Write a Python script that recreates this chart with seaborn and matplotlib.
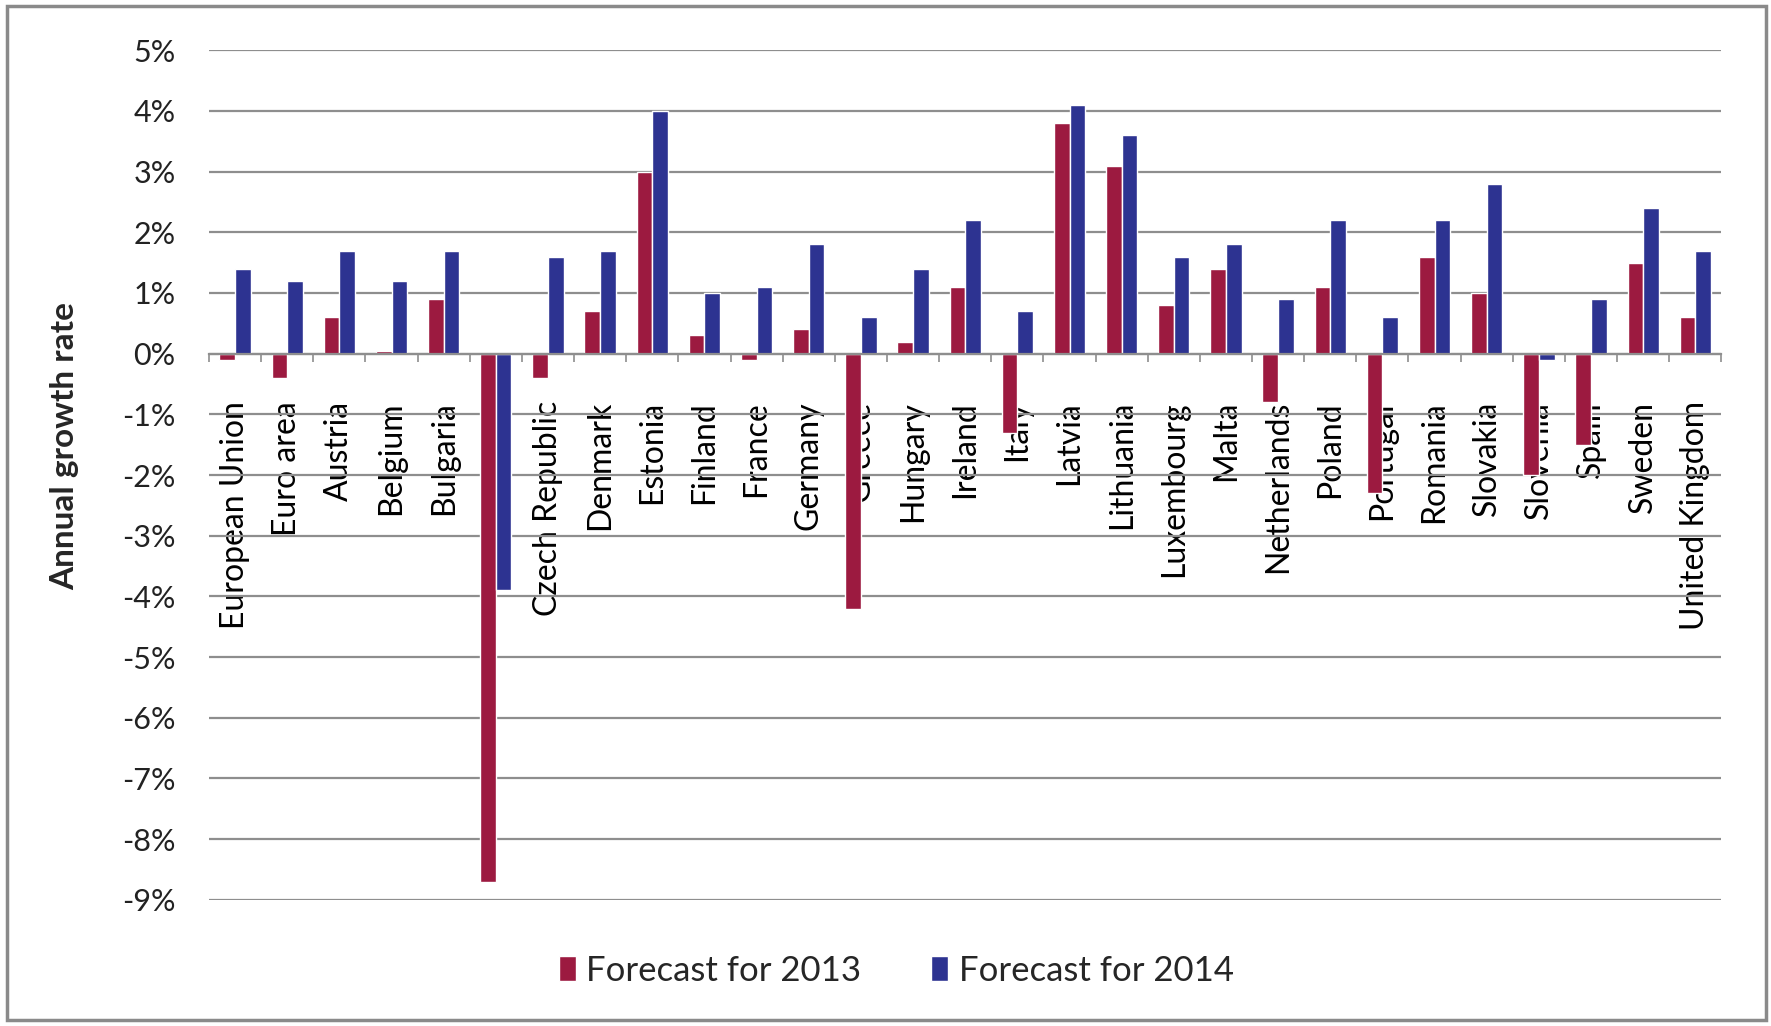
import numpy as np
import pandas as pd
import matplotlib
matplotlib.use('Agg')
import matplotlib.pyplot as plt
import seaborn as sns
from matplotlib.patches import Rectangle
from matplotlib.ticker import FuncFormatter, MultipleLocator, FixedLocator

# data (annual growth rate, %)
countries = ['European Union', 'Euro area', 'Austria', 'Belgium', 'Bulgaria', 'Cyprus',
             'Czech Republic', 'Denmark', 'Estonia', 'Finland', 'France', 'Germany',
             'Greece', 'Hungary', 'Ireland', 'Italy', 'Latvia', 'Lithuania', 'Luxembourg',
             'Malta', 'Netherlands', 'Poland', 'Portugal', 'Romania', 'Slovakia',
             'Slovenia', 'Spain', 'Sweden', 'United Kingdom']
forecast_2013 = [-0.1, -0.4, 0.6, 0.04, 0.9, -8.7, -0.4, 0.7, 3.0, 0.3, -0.1, 0.4,
                 -4.2, 0.2, 1.1, -1.3, 3.8, 3.1, 0.8, 1.4, -0.8, 1.1, -2.3, 1.6, 1.0,
                 -2.0, -1.5, 1.5, 0.6]
forecast_2014 = [1.4, 1.2, 1.7, 1.2, 1.7, -3.9, 1.6, 1.7, 4.0, 1.0, 1.1, 1.8,
                 0.6, 1.4, 2.2, 0.7, 4.1, 3.6, 1.6, 1.8, 0.9, 2.2, 0.6, 2.2, 2.8,
                 -0.1, 0.9, 2.4, 1.7]
series_names = ['Forecast for 2013', 'Forecast for 2014']

df = pd.DataFrame({
    'Country': countries * 2,
    'Series': [series_names[0]] * len(countries) + [series_names[1]] * len(countries),
    'Growth': forecast_2013 + forecast_2014,
})

red = '#9C1A40'
blue = '#2D3391'
grid_col = '#8E8E8E'

sns.set_theme(style='white')
plt.rcParams['font.family'] = ['Lato', 'DejaVu Sans']

fig, ax = plt.subplots(figsize=(17.71, 10.26), dpi=100)
fig.subplots_adjust(left=0.118, right=0.972, top=0.951, bottom=0.123)

sns.barplot(data=df, x='Country', y='Growth', hue='Series', palette=[red, blue],
            width=0.6, saturation=1, errorbar=None, ax=ax)

ax.set_xlim(-0.5, len(countries) - 0.5)
ax.set_ylim(-9, 5)
ax.yaxis.set_major_locator(MultipleLocator(1))
ax.yaxis.set_major_formatter(FuncFormatter(lambda v, p: f'{v:.0f}%'))
ax.grid(axis='y', color=grid_col, lw=1.6)
ax.set_axisbelow(True)

for s in ['top', 'right', 'left']:
    ax.spines[s].set_visible(False)
ax.spines['bottom'].set_position(('data', 0))
ax.spines['bottom'].set_color(grid_col)
ax.spines['bottom'].set_linewidth(1.6)

# category separators as small ticks on the zero line
ax.xaxis.set_minor_locator(FixedLocator(np.arange(-0.5, len(countries), 1)))
ax.tick_params(axis='x', which='minor', length=6, width=1.2, color=grid_col, direction='out', bottom=True)
ax.tick_params(axis='x', which='major', length=0, pad=34, labelsize=23, labelcolor='black')
plt.setp(ax.get_xticklabels(), rotation=90)
ax.tick_params(axis='y', length=0, pad=24, labelsize=22, labelcolor='#222222')

ax.set_xlabel('')
ax.set_ylabel('Annual growth rate', fontsize=24, fontweight='bold')
ax.yaxis.set_label_coords(-0.086, 0.534)

ax.legend(loc='center', bbox_to_anchor=(0.506, 0.054), bbox_transform=fig.transFigure,
          ncol=2, frameon=False, fontsize=25, handlelength=0.5, handleheight=0.7,
          handletextpad=0.3, columnspacing=2.0)

fig.patches.append(Rectangle((0.004, 0.006), 0.993, 0.988, transform=fig.transFigure,
                             fill=False, edgecolor='#8A8A8A', lw=2.5))

plt.savefig('out.png', dpi=100)
